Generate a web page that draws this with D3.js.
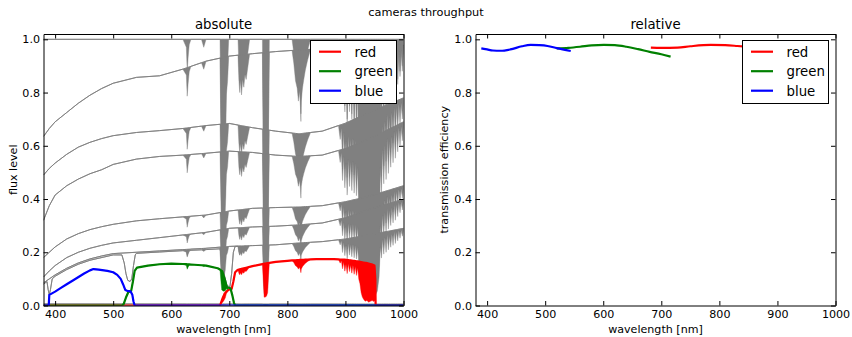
<!DOCTYPE html>
<html><head><meta charset="utf-8">
<script src="https://cdn.jsdelivr.net/npm/d3@7"></script>
<style>body{margin:0;background:#fff}text{font-family:"DejaVu Sans",sans-serif}</style>
</head><body><svg id="c" width="852" height="337"></svg>
<script>
// ---------- data ----------
const xTicks = [400, 500, 600, 700, 800, 900, 1000];
const yTicks = [0, 0.2, 0.4, 0.6, 0.8, 1.0];
const seriesNames = ["red", "green", "blue"];

// continuum knots for the grey flux curves
const knotWl = [380, 390, 400, 420, 440, 460, 480, 500, 540, 580, 620, 660, 700, 740, 780, 820, 860, 900, 940, 1000];
const fluxA = [0.635, 0.665, 0.69, 0.725, 0.76, 0.79, 0.815, 0.835, 0.857, 0.863, 0.888, 0.918, 0.937, 0.946, 0.954, 0.96, 0.965, 0.97, 0.974, 0.978];
const fluxB = [0.49, 0.515, 0.535, 0.568, 0.595, 0.613, 0.627, 0.638, 0.65, 0.657, 0.665, 0.676, 0.684, 0.668, 0.655, 0.645, 0.655, 0.685, 0.725, 0.78];
const fluxC = [0.32, 0.375, 0.415, 0.45, 0.475, 0.495, 0.51, 0.53, 0.55, 0.56, 0.565, 0.572, 0.58, 0.575, 0.565, 0.56, 0.565, 0.59, 0.625, 0.69];
const fluxD = [0.18, 0.2, 0.22, 0.25, 0.27, 0.285, 0.296, 0.305, 0.318, 0.326, 0.333, 0.34, 0.355, 0.365, 0.368, 0.37, 0.375, 0.39, 0.41, 0.45];
const fluxE = [0.107, 0.13, 0.15, 0.18, 0.2, 0.215, 0.226, 0.235, 0.245, 0.255, 0.265, 0.275, 0.29, 0.295, 0.298, 0.303, 0.31, 0.33, 0.36, 0.4];
const fluxF = [0.085, 0.1, 0.115, 0.14, 0.16, 0.175, 0.186, 0.195, 0.2, 0.205, 0.21, 0.215, 0.222, 0.225, 0.228, 0.235, 0.24, 0.25, 0.265, 0.29];
// grey curve with the dichroic notches
const notchWl = [380, 386, 388, 390, 392, 395, 400, 420, 440, 460, 500, 515, 519, 522, 525, 529, 532, 535, 538, 540, 580, 620, 660, 684, 688, 692, 696, 701, 704, 707, 710, 720];
const notchFlux = [0.08, 0.09, 0.06, 0.04, 0.06, 0.1, 0.11, 0.135, 0.155, 0.17, 0.19, 0.19, 0.16, 0.12, 0.095, 0.09, 0.1, 0.15, 0.19, 0.196, 0.201, 0.206, 0.21, 0.213, 0.17, 0.11, 0.075, 0.07, 0.12, 0.2, 0.222, 0.222];
const unityWl = [380, 1000];
const unityFlux = [1, 1];
const floorWl = [380, 1000];
const floorFlux = [0.006, 0.005];

// atmospheric absorption: lower envelope of transmission
const atmWl = [380, 620, 626, 627.5, 629, 631, 634, 652, 656, 660, 684, 685.5, 687, 689, 691, 693, 695, 697, 699,
  715, 716.5, 718, 719.5, 721, 723, 725, 727, 729, 732, 735, 757, 758.5, 760, 762, 764, 766, 767.5, 769,
  808, 811, 814, 817, 819, 821, 822.5, 823.3, 824, 826, 828, 831, 835, 840,
  888, 891, 893, 895, 897, 899, 901, 903, 905, 907, 909, 911, 913, 915, 917, 919, 921, 923, 925, 927,
  929, 931, 934, 937, 940, 943, 946, 949, 952, 955, 958,
  960, 962, 964, 966, 968, 970, 972, 974, 976, 978, 980, 982, 984, 986, 988, 990, 992, 994, 996, 998, 1000];
const atmLo = [1, 1, 0.97, 0.88, 0.93, 0.98, 1, 1, 0.97, 1, 1, 0.7, 0.45, 0.45, 0.5, 0.6, 0.85, 0.9, 1,
  1, 0.9, 0.85, 0.9, 0.84, 0.9, 0.87, 0.92, 0.9, 0.95, 1, 1, 0.6, 0.2, 0.2, 0.22, 0.3, 0.7, 1,
  1, 0.95, 0.88, 0.85, 0.8, 0.84, 0.78, 0.72, 0.8, 0.85, 0.88, 0.92, 0.96, 1,
  1, 0.92, 0.98, 0.8, 0.95, 0.75, 0.9, 0.7, 0.92, 0.75, 0.9, 0.72, 0.9, 0.7, 0.88, 0.68, 0.85, 0.6, 0.5, 0.3,
  0.2, 0.15, 0.1, 0.12, 0.08, 0.1, 0.12, 0.1, 0.15, 0.2, 0.4,
  0.8, 0.65, 0.9, 0.7, 0.92, 0.72, 0.95, 0.75, 0.93, 0.78, 0.95, 0.8, 0.97, 0.82, 0.97, 0.85, 0.98, 0.88, 0.98, 0.9, 0.97];

// absolute camera throughputs
const redWl = [380, 684, 688, 692, 696, 700, 704, 707, 710, 714, 720, 740, 760, 780, 800, 820, 850, 880, 900, 920, 935, 945, 950, 951.5, 952, 1000];
const redAbs = [0, 0, 0.025, 0.045, 0.055, 0.06, 0.062, 0.09, 0.125, 0.133, 0.137, 0.148, 0.157, 0.164, 0.168, 0.171, 0.174, 0.174, 0.172, 0.166, 0.16, 0.155, 0.15, 0.1, 0, 0];
const greenWl = [380, 515, 518, 522, 526, 531, 534, 537, 541, 560, 580, 600, 620, 640, 660, 680, 684, 688, 692, 696, 702, 705, 708, 710, 1000];
const greenAbs = [0, 0, 0.005, 0.03, 0.05, 0.055, 0.09, 0.13, 0.142, 0.15, 0.155, 0.157, 0.156, 0.153, 0.15, 0.14, 0.135, 0.128, 0.1, 0.068, 0.065, 0.04, 0.01, 0, 0];
const blueWl = [380, 389, 390, 400, 410, 420, 432, 450, 460, 466, 475, 490, 500, 507, 513, 517, 521, 524, 530, 533, 535, 537, 1000];
const blueAbs = [0, 0, 0.04, 0.052, 0.066, 0.08, 0.096, 0.12, 0.132, 0.137, 0.135, 0.13, 0.125, 0.115, 0.1, 0.08, 0.058, 0.055, 0.053, 0.04, 0.015, 0, 0];

// relative transmission efficiency
const relRedWl = [682, 700, 728, 750, 785, 810, 831, 860, 900, 950];
const relRed = [0.969, 0.968, 0.969, 0.974, 0.979, 0.978, 0.975, 0.97, 0.965, 0.96];
const relGreenWl = [520, 540, 560, 580, 601, 620, 640, 660, 680, 700, 716];
const relGreen = [0.966, 0.968, 0.972, 0.977, 0.979, 0.978, 0.972, 0.963, 0.953, 0.944, 0.935];
const relBlueWl = [390, 400, 410, 423, 440, 460, 475, 490, 504, 520, 544];
const relBlue = [0.966, 0.962, 0.958, 0.957, 0.962, 0.974, 0.979, 0.978, 0.975, 0.967, 0.956];

// ---------- drawing ----------
const colors = {red: "#ff0000", green: "#008000", blue: "#0000ff", grey: "#808080"};
const svg = d3.select("#c");
const yTop = 34, yBot = 305.5;
const panels = [
  {x0: 43.5, x1: 403.5, title: "absolute", ylabel: "flux level", ylx: 16.5, id: "L"},
  {x0: 475.5, x1: 835.5, title: "relative", ylabel: "transmission efficiency", ylx: 448, id: "R"}
];
const y = d3.scaleLinear().domain([0, 1.02]).range([yBot, yTop]);
const atm = d3.scaleLinear().domain(atmWl).range(atmLo).clamp(true);

svg.append("text").attr("x", 426).attr("y", 16).attr("text-anchor", "middle")
  .attr("font-size", "11.3px").text("cameras throughput");

function build(wl, vals) {
  const cont = d3.scaleLinear().domain(wl).range(vals);
  const lo = wl[0], hi = wl[wl.length - 1];
  const ws = Array.from(new Set(wl.concat(atmWl.filter(w => w > lo && w < hi))));
  ws.sort((a, b) => a - b);
  return ws.map(w => ({w, up: cont(w), down: cont(w) * atm(w)}));
}

panels.forEach(p => {
  const x = d3.scaleLinear().domain([380, 1000]).range([p.x0, p.x1]);
  p.x = x;
  const g = svg.append("g");
  g.append("clipPath").attr("id", "clip" + p.id).append("rect")
    .attr("x", p.x0).attr("y", yTop).attr("width", p.x1 - p.x0).attr("height", yBot - yTop);
  p.plot = g.append("g").attr("clip-path", `url(#clip${p.id})`);

  svg.append("text").attr("x", (p.x0 + p.x1) / 2).attr("y", 29).attr("text-anchor", "middle")
    .attr("font-size", "13.3px").text(p.title);
  svg.append("text").attr("x", (p.x0 + p.x1) / 2).attr("y", 333).attr("text-anchor", "middle")
    .attr("font-size", "11.1px").text("wavelength [nm]");
  svg.append("text").attr("transform", `translate(${p.ylx},${(yTop + yBot) / 2}) rotate(-90)`)
    .attr("text-anchor", "middle").attr("font-size", "11.1px").text(p.ylabel);
});

function drawBand(p, wl, vals, color, width) {
  const pts = build(wl, vals);
  const area = d3.area().x(d => p.x(d.w)).y0(d => y(d.down)).y1(d => y(d.up));
  const line = d3.line().x(d => p.x(d.w)).y(d => y(d.up));
  p.plot.append("path").datum(pts).attr("d", area).attr("fill", color).attr("stroke", color).attr("stroke-width", 0.4);
  p.plot.append("path").datum(pts).attr("d", line).attr("fill", "none").attr("stroke", color)
    .attr("stroke-width", width).attr("stroke-linejoin", "round");
}

const L = panels[0], R = panels[1];
drawBand(L, unityWl, unityFlux, colors.grey, 1);
[fluxA, fluxB, fluxC, fluxD, fluxE, fluxF].forEach(f => drawBand(L, knotWl, f, colors.grey, 1));
drawBand(L, notchWl, notchFlux, colors.grey, 1);
drawBand(L, floorWl, floorFlux, colors.grey, 1);
drawBand(L, redWl, redAbs, colors.red, 2.2);
drawBand(L, greenWl, greenAbs, colors.green, 2.2);
drawBand(L, blueWl, blueAbs, colors.blue, 2.2);

const relLine = d3.line().x(d => R.x(d[0])).y(d => y(d[1])).curve(d3.curveMonotoneX);
[[relRedWl, relRed, colors.red], [relGreenWl, relGreen, colors.green], [relBlueWl, relBlue, colors.blue]]
  .forEach(([wl, v, c]) => {
    R.plot.append("path").datum(d3.zip(wl, v)).attr("d", relLine).attr("fill", "none")
      .attr("stroke", c).attr("stroke-width", 2.2);
  });

panels.forEach(p => {
  const ax = svg.append("g");
  ax.append("g").attr("transform", `translate(0,${yBot})`)
    .call(d3.axisBottom(p.x).tickValues(xTicks).tickSize(-4.5).tickSizeOuter(0).tickPadding(5).tickFormat(d3.format("d")));
  ax.append("g").attr("transform", `translate(0,${yTop})`)
    .call(d3.axisTop(p.x).tickValues(xTicks).tickSize(-4.5).tickSizeOuter(0).tickFormat(""));
  ax.append("g").attr("transform", `translate(${p.x0},0)`)
    .call(d3.axisLeft(y).tickValues(yTicks).tickSize(-4.5).tickSizeOuter(0).tickPadding(3.5).tickFormat(d3.format(".1f")));
  ax.append("g").attr("transform", `translate(${p.x1},0)`)
    .call(d3.axisRight(y).tickValues(yTicks).tickSize(-4.5).tickSizeOuter(0).tickFormat(""));
  ax.selectAll("text").attr("font-size", "11.1px").attr("font-family", "DejaVu Sans").attr("fill", "#000");
  ax.selectAll("path.domain, line").attr("stroke", "#000").attr("stroke-width", 1);

  const lx = p.x1 - 93, ly = 40.5;
  const lg = svg.append("g").attr("transform", `translate(${lx},${ly})`);
  lg.append("rect").attr("width", 86).attr("height", 63).attr("fill", "#fff").attr("stroke", "#000").attr("stroke-width", 1);
  seriesNames.forEach((n, i) => {
    const yy = 11.2 + i * 19.5;
    lg.append("line").attr("x1", 8.5).attr("x2", 30.5).attr("y1", yy).attr("y2", yy)
      .attr("stroke", colors[n]).attr("stroke-width", 2.2);
    lg.append("text").attr("x", 44).attr("y", yy + 4.8).attr("font-size", "13.3px").text(n);
  });
});
</script>
</body></html>
